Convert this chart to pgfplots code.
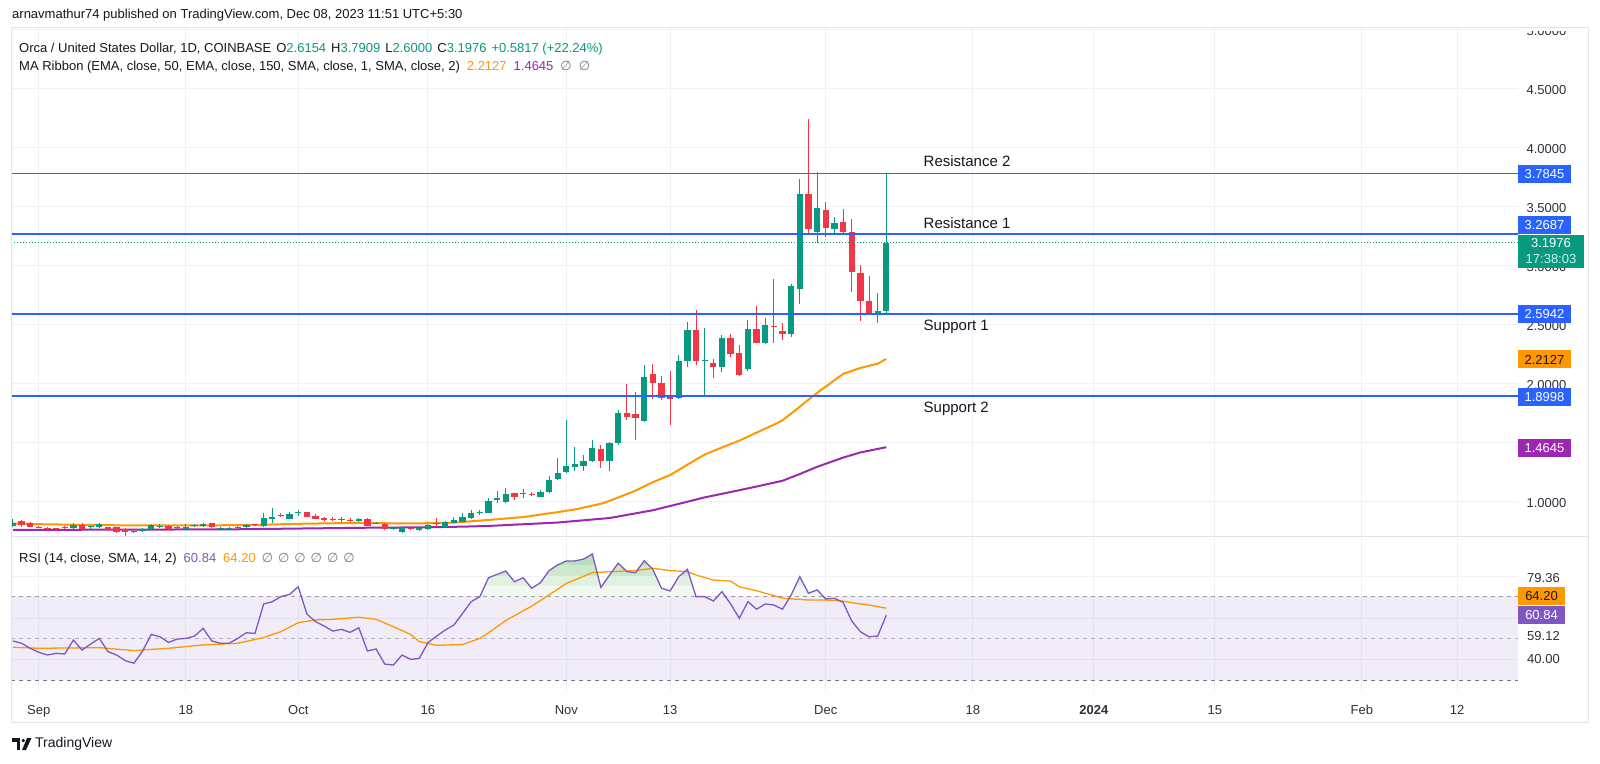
\documentclass[border=0pt]{standalone}
\usepackage{fontspec}
\setmainfont{Liberation Sans}
\newfontfamily\dejavu{DejaVu Sans}
\usepackage{pgfplots}
\usepackage{pgfplotstable}
\pgfplotsset{compat=1.18}
\definecolor{up}{HTML}{089981}
\definecolor{dn}{HTML}{F23645}
\definecolor{lineblue}{HTML}{2962FF}
\definecolor{ema}{HTML}{FF9800}
\definecolor{emb}{HTML}{9C27B0}
\definecolor{rsic}{HTML}{7E57C2}
\definecolor{gridc}{HTML}{EFF1F6}
\definecolor{txt}{HTML}{131722}
\definecolor{lbl}{HTML}{2E313B}
\definecolor{framec}{HTML}{E0E3EB}
\definecolor{dashc}{HTML}{787B86}
\definecolor{gfa}{HTML}{F0F8F0}
\definecolor{gfb}{HTML}{E0F1E1}
\definecolor{gfc}{HTML}{CDE8CF}
\definecolor{gfd}{HTML}{B9DFBC}
\newcommand{\fs}[1]{\fontsize{#1}{#1}\selectfont}
\newcommand{\ns}{{\dejavu\color{dashc}∅}}

\pgfplotstableread{
t o h l c
-3 0.799 0.853 0.791 0.819
4 0.777 0.819 0.771 0.805
6 0.785 0.799 0.774 0.791
7 0.791 0.819 0.782 0.811
11 0.743 0.757 0.740 0.749
12 0.757 0.777 0.749 0.768
13 0.768 0.811 0.763 0.802
14 0.788 0.811 0.782 0.794
16 0.782 0.799 0.774 0.788
17 0.774 0.811 0.768 0.791
18 0.794 0.811 0.785 0.799
19 0.794 0.825 0.788 0.811
21 0.774 0.791 0.768 0.780
22 0.774 0.788 0.768 0.780
23 0.777 0.799 0.771 0.791
24 0.785 0.811 0.780 0.802
26 0.797 0.904 0.791 0.862
27 0.853 0.946 0.819 0.876
29 0.859 0.912 0.853 0.895
30 0.904 0.932 0.881 0.918
35 0.845 0.870 0.830 0.850
37 0.836 0.867 0.830 0.853
39 0.816 0.830 0.814 0.825
41 0.771 0.791 0.763 0.777
42 0.749 0.791 0.734 0.785
44 0.763 0.782 0.757 0.777
45 0.768 0.811 0.763 0.805
47 0.788 0.839 0.780 0.830
48 0.822 0.873 0.818 0.845
49 0.833 0.909 0.828 0.870
50 0.867 0.932 0.856 0.904
51 0.909 0.932 0.890 0.918
52 0.909 1.031 0.904 1.011
53 1.017 1.093 0.994 1.031
54 1.003 1.116 0.989 1.065
56 1.065 1.107 1.031 1.073
58 1.045 1.101 1.039 1.087
59 1.082 1.220 1.073 1.186
60 1.192 1.370 1.186 1.248
61 1.257 1.695 1.248 1.305
62 1.299 1.469 1.265 1.319
63 1.308 1.398 1.265 1.347
64 1.347 1.525 1.341 1.455
66 1.347 1.511 1.265 1.503
67 1.497 1.780 1.483 1.757
70 1.689 2.161 1.681 2.062
74 1.878 2.246 1.870 2.198
75 2.198 2.523 2.141 2.458
77 2.195 2.472 1.898 2.200
79 2.147 2.415 2.105 2.387
82 2.127 2.542 2.113 2.463
84 2.350 2.557 2.339 2.500
87 2.421 2.845 2.401 2.833
88 2.802 3.737 2.675 3.607
90 3.291 3.794 3.198 3.489
92 3.316 3.418 3.263 3.362
97 2.593 2.774 2.514 2.616
98 2.6154 3.7909 2.600 3.1976
}\upc

\pgfplotstableread{
t o h l c
-2 0.839 0.847 0.791 0.805
-1 0.819 0.828 0.785 0.791
0 0.788 0.797 0.777 0.782
1 0.777 0.785 0.766 0.771
2 0.777 0.782 0.763 0.768
3 0.788 0.799 0.774 0.782
5 0.805 0.819 0.763 0.768
8 0.785 0.791 0.757 0.763
9 0.785 0.791 0.740 0.749
10 0.768 0.777 0.712 0.749
15 0.797 0.802 0.763 0.768
20 0.819 0.825 0.777 0.785
25 0.808 0.814 0.797 0.802
28 0.890 0.904 0.870 0.884
31 0.912 0.918 0.870 0.876
32 0.881 0.898 0.853 0.859
33 0.864 0.876 0.842 0.847
34 0.850 0.870 0.836 0.845
36 0.845 0.862 0.830 0.839
38 0.856 0.862 0.797 0.799
40 0.814 0.825 0.763 0.774
43 0.782 0.791 0.763 0.771
46 0.820 0.862 0.791 0.814
55 1.073 1.079 1.017 1.039
57 1.065 1.087 1.051 1.056
65 1.446 1.483 1.285 1.347
68 1.757 2.000 1.695 1.717
69 1.746 1.935 1.525 1.709
71 2.082 2.170 1.870 2.011
72 2.011 2.070 1.865 1.884
73 1.887 2.110 1.653 1.875
76 2.458 2.627 2.161 2.198
78 2.175 2.209 2.048 2.147
80 2.393 2.424 2.226 2.251
81 2.265 2.331 2.068 2.076
83 2.463 2.661 2.345 2.350
85 2.494 2.887 2.350 2.480
86 2.446 2.514 2.373 2.421
89 3.607 4.246 3.263 3.311
91 3.475 3.545 3.249 3.319
93 3.370 3.483 3.282 3.291
94 3.285 3.398 2.782 2.946
95 2.938 3.009 2.534 2.706
96 2.706 2.915 2.585 2.590
}\dnc

\pgfplotstableread{
t v
-3 0.818
0 0.812
5 0.806
10 0.802
15 0.801
20 0.802
25 0.806
30 0.815
35 0.821
40 0.820
44 0.819
48 0.825
52 0.848
56 0.872
60 0.914
62 0.937
65 0.985
66 1.010
69 1.096
71 1.168
73 1.228
75 1.316
77 1.402
79 1.462
81 1.520
83 1.588
85 1.655
86 1.692
88 1.808
90 1.925
91 1.978
93 2.085
95 2.136
97 2.172
98 2.2127
}\emaf

\pgfplotstableread{
t v
-3 0.763
10 0.766
22 0.768
38 0.782
44 0.785
49 0.791
52 0.797
60 0.826
66 0.864
71 0.930
74 0.984
77 1.039
81 1.100
83 1.131
86 1.180
88 1.237
90 1.298
93 1.376
95 1.420
98 1.4645
}\emas

\pgfplotstableread{
t v
-3 48.6
-2 47.5
-1 45.1
0 43.2
1 41.9
2 42.7
3 42.4
4 49.0
5 44.3
6 47.1
7 49.8
8 43.5
9 41.9
10 39.2
11 38.0
12 43.8
13 51.7
14 50.6
15 47.9
16 49.5
17 49.8
18 50.9
19 54.6
20 48.6
21 47.5
22 47.5
23 49.8
24 52.5
25 52.2
26 66.2
27 67.3
28 69.7
29 70.8
30 74.4
31 61.4
32 57.8
33 55.7
34 53.3
35 54.1
36 52.7
37 54.9
38 43.8
39 44.8
40 37.6
41 37.1
42 41.9
43 39.8
44 40.3
45 47.8
46 50.9
47 53.8
48 56.2
49 61.7
50 67.3
51 69.7
52 78.7
53 80.3
54 81.9
55 76.8
56 78.7
57 73.7
58 76.3
59 82.1
60 84.8
61 86.7
62 86.7
63 87.6
64 90.0
65 74.1
66 80.0
67 85.6
68 81.6
69 81.1
70 86.8
71 82.7
72 73.7
73 72.4
74 79.2
75 82.7
76 69.7
77 69.7
78 67.6
79 72.1
80 66.2
81 59.4
82 67.3
83 63.7
84 66.2
85 65.7
86 63.7
87 70.5
88 79.2
89 71.3
90 72.9
91 68.6
92 68.9
93 67.0
94 58.1
95 53.0
96 50.6
97 50.9
98 60.84
}\rsi

\pgfplotstableread{
t v
-3 45.6
0 45.1
7 45.4
11 44.0
12 44.3
15 45.1
19 46.7
23 47.5
26 50.2
28 53.0
30 57.3
32 58.6
34 58.9
37 59.9
39 58.9
41 55.4
43 51.7
44 48.3
46 46.5
49 46.9
51 49.8
52 52.5
54 58.3
57 65.2
59 70.5
61 76.0
64 81.1
66 81.6
69 82.1
71 83.2
73 82.1
75 81.6
76 80.0
78 77.6
80 77.1
81 74.4
83 72.5
85 70.2
86 68.9
89 68.1
91 68.1
93 67.6
94 66.8
96 65.7
98 64.2
}\rsima

\begin{document}
\begin{tikzpicture}
\useasboundingbox (0,0) rectangle (1600pt,763pt);
\fill[white] (0,0) rectangle (1600pt,763pt);

% ===== main price pane =====
\begin{axis}[
  at={(11pt,226pt)}, anchor=south west,
  width=1507pt, height=509pt, scale only axis,
  xmin=-3.216, xmax=171.05, ymin=0.7034, ymax=5.017,
  axis line style={draw=none}, tick style={draw=none},
  xtick={0,17,30,45,61,73,91,108,122,136,153,164}, xticklabels={},
  ytick={1,1.5,2,2.5,3,3.5,4,4.5,5},
  yticklabels={1.0000,,2.0000,2.5000,3.0000,3.5000,4.0000,4.5000,5.0000},
  yticklabel pos=right,
  yticklabel style={anchor=west, xshift=5pt, yshift=-1pt, font=\fs{13}, text=lbl},
  xmajorgrids, ymajorgrids,
  major grid style={draw=gridc, line width=1pt},
]
\addplot[emb, line width=2pt] table[x=t,y=v] {\emas};
\addplot[ema, line width=2pt] table[x=t,y=v] {\emaf};
% wicks
\addplot[draw=none, mark=none, error bars/.cd, y dir=plus, y explicit, error mark=none,
  error bar style={draw=up, line width=1pt}]
  table[x=t, y=l, y error expr={\thisrow{h}-\thisrow{l}}] {\upc};
\addplot[draw=none, mark=none, error bars/.cd, y dir=plus, y explicit, error mark=none,
  error bar style={draw=dn, line width=1pt}]
  table[x=t, y=l, y error expr={\thisrow{h}-\thisrow{l}}] {\dnc};
% bodies
\addplot[draw=none, mark=none, error bars/.cd, y dir=plus, y explicit, error mark=none,
  error bar style={draw=up, line width=6.3pt}]
  table[x=t, y=o, y error expr={max(\thisrow{c}-\thisrow{o},0.009)}] {\upc};
\addplot[draw=none, mark=none, error bars/.cd, y dir=plus, y explicit, error mark=none,
  error bar style={draw=dn, line width=6.3pt}]
  table[x=t, y=c, y error expr={max(\thisrow{o}-\thisrow{c},0.009)}] {\dnc};
% levels
\addplot[up, line width=1pt, dash pattern=on 1pt off 2pt] coordinates {(-3.216,3.1976) (171.05,3.1976)};
\addplot[lineblue, line width=1.8pt] coordinates {(-3.216,3.7845) (171.05,3.7845)};
\addplot[lineblue, line width=1.8pt] coordinates {(-3.216,3.2687) (171.05,3.2687)};
\addplot[lineblue, line width=1.8pt] coordinates {(-3.216,2.5942) (171.05,2.5942)};
\addplot[lineblue, line width=1.8pt] coordinates {(-3.216,1.8998) (171.05,1.8998)};
\node[anchor=west, inner sep=0pt, font=\fs{15}, text=txt] at (axis cs:102.3,3.885) {Resistance 2};
\node[anchor=west, inner sep=0pt, font=\fs{15}, text=txt] at (axis cs:102.3,3.364) {Resistance 1};
\node[anchor=west, inner sep=0pt, font=\fs{15}, text=txt] at (axis cs:102.3,2.482) {Support 1};
\node[anchor=west, inner sep=0pt, font=\fs{15}, text=txt] at (axis cs:102.3,1.792) {Support 2};
\end{axis}

% ===== RSI pane =====
\begin{axis}[
  at={(11pt,70pt)}, anchor=south west,
  width=1507pt, height=156pt, scale only axis,
  xmin=-3.216, xmax=171.05, ymin=23.81, ymax=98.1,
  axis line style={draw=none}, tick style={draw=none},
  xtick={0,17,30,45,61,73,91,108,122,136,153,164},
  xticklabels={Sep,18,Oct,16,Nov,13,Dec,18,\textbf{2024},15,Feb,12},
  xticklabel style={anchor=base, yshift=-21.5pt, font=\fs{13}, text=lbl},
  ytick={40,59.12,79.36}, yticklabels={},
  xmajorgrids, ymajorgrids,
  major grid style={draw=gridc, line width=1pt},
]
\fill[rsic, fill opacity=0.1] (axis cs:-3.216,30) rectangle (axis cs:171.05,70);
\begin{scope}
\clip (axis cs:-3.216,70) rectangle (axis cs:171.05,75);
\addplot[draw=none, fill=gfa] table[x=t,y=v] {\rsi} \closedcycle;
\end{scope}
\begin{scope}
\clip (axis cs:-3.216,75) rectangle (axis cs:171.05,80);
\addplot[draw=none, fill=gfb] table[x=t,y=v] {\rsi} \closedcycle;
\end{scope}
\begin{scope}
\clip (axis cs:-3.216,80) rectangle (axis cs:171.05,85);
\addplot[draw=none, fill=gfc] table[x=t,y=v] {\rsi} \closedcycle;
\end{scope}
\begin{scope}
\clip (axis cs:-3.216,85) rectangle (axis cs:171.05,98);
\addplot[draw=none, fill=gfd] table[x=t,y=v] {\rsi} \closedcycle;
\end{scope}
\addplot[dashc, opacity=0.7, line width=1pt, dash pattern=on 4pt off 4pt] coordinates {(-3.216,70) (171.05,70)};
\addplot[dashc, opacity=0.5, line width=1pt, dash pattern=on 4pt off 4pt] coordinates {(-3.216,50) (171.05,50)};
\addplot[dashc, line width=1pt, dash pattern=on 4pt off 4pt] coordinates {(-3.216,30) (171.05,30)};
\addplot[ema, line width=1.3pt] table[x=t,y=v] {\rsima};
\addplot[rsic, line width=1.3pt] table[x=t,y=v] {\rsi};
\end{axis}

% ===== overlay =====
\fill[white] (0,735pt) rectangle (1600pt,763pt);
\fill[white] (1519pt,731.5pt) rectangle (1587pt,735pt);
\draw[framec, line width=1pt] (11pt,41pt) rectangle (1588pt,735pt);
\draw[framec, line width=1pt] (11pt,226pt) -- (1588pt,226pt);

\node[anchor=west, inner sep=0pt, font=\fs{13}, text=txt] at (12pt,748pt)
  {arnavmathur74 published on TradingView.com, Dec 08, 2023 11:51 UTC+5:30};
\node[anchor=west, inner sep=0pt, font=\fs{13}, text=txt] at (19pt,714pt)
  {Orca / United States Dollar, 1D, COINBASE\hspace{5pt}O\textcolor{up}{2.6154}\hspace{5pt}H\textcolor{up}{3.7909}\hspace{5pt}L\textcolor{up}{2.6000}\hspace{5pt}C\textcolor{up}{3.1976}\hspace{5pt}\textcolor{up}{+0.5817 (+22.24\%)}};
\node[anchor=west, inner sep=0pt, font=\fs{13}, text=txt] at (19pt,696pt)
  {MA Ribbon (EMA, close, 50, EMA, close, 150, SMA, close, 1, SMA, close, 2)\hspace{7pt}\textcolor{ema}{2.2127}\hspace{7pt}\textcolor{emb}{1.4645}\hspace{7pt}\ns\hspace{7pt}\ns};
\node[anchor=west, inner sep=0pt, font=\fs{13}, text=txt] at (19pt,204pt)
  {RSI (14, close, SMA, 14, 2)\hspace{7pt}\textcolor{rsic}{60.84}\hspace{7pt}\textcolor{ema}{64.20}\hspace{6pt}\ns\hspace{5pt}\ns\hspace{5pt}\ns\hspace{5pt}\ns\hspace{5pt}\ns\hspace{5pt}\ns};

\tikzset{badge/.style={minimum width=53pt, minimum height=18pt, inner sep=0pt, font=\fs{13}, text=white}}
\node[badge, fill=lineblue] at (1544.5pt,589pt) {3.7845};
\node[badge, fill=lineblue] at (1544.5pt,538pt) {3.2687};
\node[fill=up, minimum width=66pt, minimum height=33pt, inner sep=0pt, align=center, font=\fontsize{13}{16}\selectfont, text=white] at (1551pt,511.5pt) {3.1976\\\textcolor{white!82!up}{17:38:03}};
\node[badge, fill=lineblue] at (1544.5pt,448.5pt) {2.5942};
\node[badge, fill=ema, text=txt] at (1544.5pt,403.5pt) {2.2127};
\node[badge, fill=lineblue] at (1544.5pt,366pt) {1.8998};
\node[badge, fill=emb] at (1544.5pt,315pt) {1.4645};
\node[badge, minimum width=47pt, fill=ema, text=txt] at (1541.5pt,166.6pt) {64.20};
\node[badge, minimum width=47pt, fill=rsic] at (1541.5pt,148pt) {60.84};
\node[anchor=west, inner sep=0pt, font=\fs{13}, text=lbl] at (1527pt,185pt) {79.36};
\node[anchor=west, inner sep=0pt, font=\fs{13}, text=lbl] at (1527pt,126.5pt) {59.12};
\node[anchor=west, inner sep=0pt, font=\fs{13}, text=lbl] at (1527pt,103.5pt) {40.00};

% footer logo
\fill[txt] (12pt,21.5pt) rectangle (20pt,25pt);
\fill[txt] (16.5pt,13pt) rectangle (20pt,25pt);
\fill[txt] (23.3pt,22.5pt) circle (1.8pt);
\fill[txt] (27pt,25pt) -- (31.5pt,25pt) -- (26pt,13pt) -- (22pt,13pt) -- cycle;
\node[anchor=west, inner sep=0pt, font=\fs{14}, text=txt] at (35pt,19pt) {TradingView};
\end{tikzpicture}
\end{document}
